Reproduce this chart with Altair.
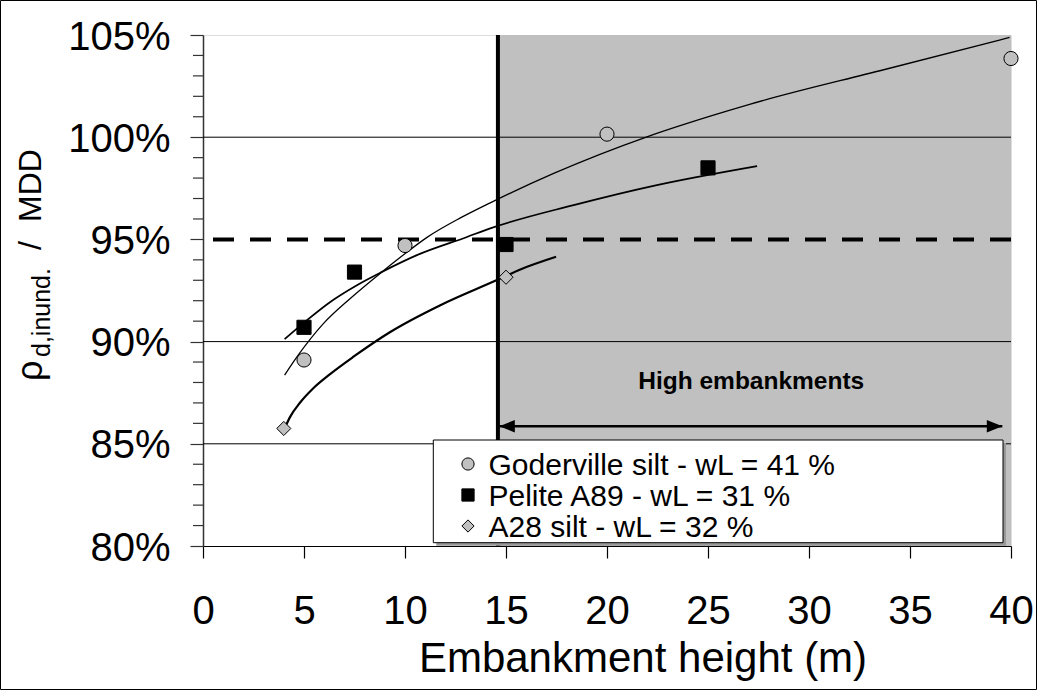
import altair as alt
import pandas as pd

# ---------------- data ----------------
SERIES = ["Goderville silt - wL = 41 %", "Pelite A89 - wL = 31 %", "A28 silt - wL = 32 %"]

# measured points (x = embankment height in m, y = rho_d,inund / MDD in %)
god_x = [5, 10, 20, 40]
god_y = [89.1, 94.7, 100.15, 103.85]
pel_x = [5, 7.5, 15, 25]
pel_y = [90.7, 93.4, 94.75, 98.5]
a28_x = [4, 15]
a28_y = [85.75, 93.15]

# trend curves
god_cx = [4.04, 4.65, 5.97, 7.29, 8.86, 10.01, 11.09, 12.74, 14.22, 17.36, 21.98, 25.11, 27.10, 33.70, 39.93]
god_cy = [88.36, 89.25, 90.89, 92.11, 93.41, 94.31, 95.10, 96.05, 96.79, 98.23, 100.02, 101.03, 101.62, 103.30, 104.88]
pel_cx = [4.04, 5.15, 6.30, 7.62, 8.86, 10.59, 13.07, 14.22, 18.35, 22.47, 27.43]
pel_cy = [90.12, 91.05, 91.94, 92.76, 93.41, 94.23, 95.12, 95.54, 96.68, 97.66, 98.59]
a28_cx = [4.07, 4.32, 4.80, 5.46, 6.29, 7.45, 9.27, 11.75, 14.55, 15.71, 17.48]
a28_cy = [85.82, 86.33, 87.01, 87.72, 88.41, 89.26, 90.47, 91.78, 93.01, 93.53, 94.15]

X_TICKS = [0, 5, 10, 15, 20, 25, 30, 35, 40]
Y_MAJOR = [80, 85, 90, 95, 100, 105]
Y_MINOR = [v for v in range(80, 106) if v % 5 != 0]
GRID_Y = [85, 90, 100]
THRESHOLD_Y = 95
HIGH_X = 14.6
X_MIN, X_MAX = 0, 40
Y_MIN, Y_MAX = 80, 105
ARROW_X = [14.67, 39.57]
ARROW_Y = 85.86
LABEL_TEXT = "High embankments"
LABEL_X, LABEL_Y = 27.14, 87.67

FONT = "Liberation Sans"

# ---------------- tables ----------------
pts = pd.DataFrame({
    "x": god_x + pel_x + a28_x,
    "y": god_y + pel_y + a28_y,
    "series": [SERIES[0]] * len(god_x) + [SERIES[1]] * len(pel_x) + [SERIES[2]] * len(a28_x),
})
curves = pd.DataFrame({
    "x": god_cx + pel_cx + a28_cx,
    "y": god_cy + pel_cy + a28_cy,
    "series": [SERIES[0]] * len(god_cx) + [SERIES[1]] * len(pel_cx) + [SERIES[2]] * len(a28_cx),
})
region = pd.DataFrame({"x": [HIGH_X], "x2": [X_MAX], "y": [Y_MIN], "y2": [Y_MAX]})
vline = pd.DataFrame({"x": [HIGH_X], "y": [Y_MIN], "y2": [Y_MAX]})
grid = pd.DataFrame({"y": GRID_Y})
minor = pd.DataFrame({"y": Y_MINOR})
thresh = pd.DataFrame({"y": [THRESHOLD_Y]})
arrow = pd.DataFrame({"x": [ARROW_X[0]], "x2": [ARROW_X[1]], "y": [ARROW_Y]})
head_l = pd.DataFrame({"x": [ARROW_X[0]], "y": [ARROW_Y]})
head_r = pd.DataFrame({"x": [ARROW_X[1]], "y": [ARROW_Y]})
label = pd.DataFrame({"x": [LABEL_X], "y": [LABEL_Y], "t": [LABEL_TEXT]})
legend_df = pd.DataFrame({"series": SERIES})
dummy = pd.DataFrame({"a": [0]})

xs = alt.Scale(domain=[X_MIN, X_MAX], nice=False, zero=False)
ys = alt.Scale(domain=[Y_MIN, Y_MAX], nice=False, zero=False)
shape_scale = alt.Scale(domain=SERIES, range=["circle", "square", "diamond"])
fill_scale = alt.Scale(domain=SERIES, range=["#c0c0c0", "#000000", "#c0c0c0"])

x_axis = alt.Axis(
    values=X_TICKS, grid=False, title="Embankment height (m)",
    labelFontSize=40, labelFont=FONT, labelColor="black", labelPadding=33,
    labelFlush=False, labelOverlap=False,
    tickSize=12, tickColor="black", tickWidth=1.2,
    domainColor="black", domainWidth=1.2,
    titleFontSize=42, titleFont=FONT, titleFontWeight="normal", titleColor="black",
    titleX=439.5, titleY=125.7, titleBaseline="alphabetic", titleAlign="center", titleAnchor="start",
)
y_axis = alt.Axis(
    values=Y_MAJOR, grid=False, title=None,
    labelExpr="datum.value + '%'",
    labelFontSize=40, labelFont=FONT, labelColor="black", labelPadding=20,
    labelBaseline="middle", labelOffset=2, labelOverlap=False, labelFlush=False,
    tickSize=13, tickColor="#333333", tickWidth=1.2,
    domainColor="#333333", domainWidth=1.5,
)

base_region = alt.Chart(region).mark_rect(color="#c0c0c0").encode(
    x=alt.X("x:Q", scale=xs, axis=x_axis),
    x2="x2:Q",
    y=alt.Y("y:Q", scale=ys, axis=y_axis),
    y2="y2:Q",
)
minor_l = alt.Chart(minor).mark_rule(color="#333333", strokeWidth=1.2).encode(
    y="y:Q", x=alt.value(-10), x2=alt.value(0))
grid_l = alt.Chart(grid).mark_rule(color="black", strokeWidth=1).encode(y="y:Q")
vline_l = alt.Chart(vline).mark_rule(color="black", strokeWidth=4).encode(x="x:Q", y="y:Q", y2="y2:Q")
thresh_l = alt.Chart(thresh).mark_rule(color="black", strokeWidth=4, strokeDash=[21, 16]).encode(y="y:Q")

curves_l = alt.Chart(curves).mark_line(color="black", interpolate="monotone").encode(
    x="x:Q", y="y:Q",
    detail="series:N",
    strokeWidth=alt.StrokeWidth("series:N", scale=alt.Scale(domain=SERIES, range=[1.3, 2.2, 2.2]), legend=None),
)

points_l = alt.Chart(pts).mark_point(filled=True, size=200, stroke="black", strokeWidth=1, opacity=1).encode(
    x="x:Q", y="y:Q",
    shape=alt.Shape("series:N", scale=shape_scale, legend=None),
    fill=alt.Fill("series:N", scale=fill_scale, legend=None),
)

arrow_l = alt.Chart(arrow).mark_rule(color="black", strokeWidth=2.5).encode(x="x:Q", x2="x2:Q", y="y:Q")
head_l_l = alt.Chart(head_l).mark_point(shape="M0,0L2,-0.8L2,0.8Z", filled=True, size=240, color="black", opacity=1).encode(x="x:Q", y="y:Q")
head_r_l = alt.Chart(head_r).mark_point(shape="M0,0L-2,-0.8L-2,0.8Z", filled=True, size=240, color="black", opacity=1).encode(x="x:Q", y="y:Q")
label_l = alt.Chart(label).mark_text(fontSize=24.5, fontWeight="bold", font=FONT, align="center",
                                     baseline="alphabetic", color="black").encode(x="x:Q", y="y:Q", text="t:N")

# legend frame (shadow + white box)
shadow_l = alt.Chart(dummy).mark_rect(fill="#999999").encode(
    x=alt.value(233.3), x2=alt.value(803), y=alt.value(408), y2=alt.value(510.7))
box_l = alt.Chart(dummy).mark_rect(fill="white", stroke="black", strokeWidth=1).encode(
    x=alt.value(230.3), x2=alt.value(800), y=alt.value(405), y2=alt.value(507.7))

# y-axis title: rho with subscript
rho_l = alt.Chart(dummy).mark_text(text="ρ", angle=270, align="left", baseline="alphabetic",
                                   fontSize=36, font=FONT, color="black").encode(x=alt.value(-161), y=alt.value(346))
sub_l = alt.Chart(dummy).mark_text(text="d,inund.", angle=270, align="left", baseline="alphabetic",
                                   fontSize=25, font=FONT, color="black").encode(x=alt.value(-153), y=alt.value(322))
slash_l = alt.Chart(dummy).mark_text(text="/", angle=270, align="left", baseline="alphabetic",
                                     fontSize=32, font=FONT, color="black").encode(x=alt.value(-162), y=alt.value(215))
mdd_l = alt.Chart(dummy).mark_text(text="MDD", angle=270, align="left", baseline="alphabetic",
                                   fontSize=32, font=FONT, color="black").encode(x=alt.value(-162), y=alt.value(187))

frame_l = alt.Chart(dummy).mark_rect(fill=None, stroke="black", strokeWidth=1).encode(
    x=alt.value(-202.5), x2=alt.value(833.5), y=alt.value(-34.5), y2=alt.value(654.5))

main = alt.layer(
    base_region, minor_l, grid_l, thresh_l, vline_l, curves_l, points_l,
    arrow_l, head_l_l, head_r_l, label_l,
    shadow_l, box_l, rho_l, sub_l, slash_l, mdd_l, frame_l,
)

# legend entries, rows placed by their own point scale
row_y = alt.Y("series:N", sort=SERIES, axis=None,
              scale=alt.Scale(type="point", domain=SERIES, range=[429, 491], padding=0))
leg_sym = alt.Chart(legend_df).mark_point(filled=True, size=150, stroke="black", strokeWidth=1, opacity=1).encode(
    x=alt.value(265), y=row_y,
    shape=alt.Shape("series:N", scale=shape_scale, legend=None),
    fill=alt.Fill("series:N", scale=fill_scale, legend=None),
)
leg_txt = alt.Chart(legend_df).mark_text(align="left", baseline="middle", fontSize=30, font=FONT,
                                         color="black", dy=2).encode(
    x=alt.value(285.5), y=row_y, text="series:N",
)
legend_layer = alt.layer(leg_sym, leg_txt)

chart = alt.layer(main, legend_layer).resolve_scale(y="independent").properties(
    width=808, height=511,
    autosize=alt.AutoSizeParams(type="none"),
    padding={"left": 203, "top": 35, "right": 26, "bottom": 144},
    background="white",
).configure_view(
    stroke="#999999", strokeWidth=1,
).configure(font=FONT)

chart.save("out.html", embed_options={"renderer": "svg", "actions": False})
